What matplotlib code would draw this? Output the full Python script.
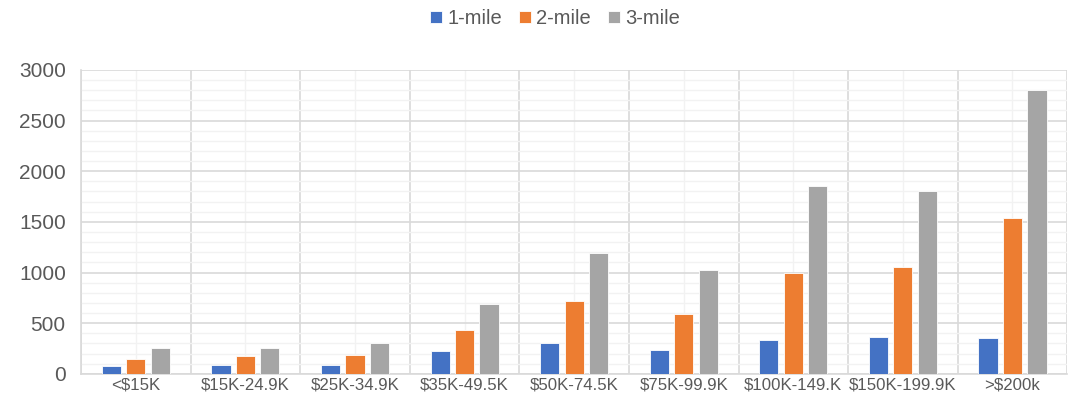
import matplotlib.pyplot as plt
import numpy as np
from matplotlib.ticker import MultipleLocator, FixedLocator

plt.rcParams['font.family'] = ['Liberation Sans', 'DejaVu Sans']

# Household income brackets and counts by radius
brackets = ['<$15K', '$15K-24.9K', '$25K-34.9K', '$35K-49.5K', '$50K-74.5K',
            '$75K-99.9K', '$100K-149.K', '$150K-199.9K', '>$200k']
one_mile = [78, 88, 92, 222, 302, 232, 335, 360, 355]
two_mile = [150, 173, 187, 432, 722, 587, 996, 1058, 1537]
three_mile = [252, 252, 302, 692, 1197, 1027, 1855, 1806, 2800]

series = [('1-mile', one_mile, '#4472C4'),
          ('2-mile', two_mile, '#ED7D31'),
          ('3-mile', three_mile, '#A5A5A5')]

fig = plt.figure(figsize=(10.72, 4.09), dpi=100)
ax = fig.add_axes([0.0756, 0.086, 0.92, 0.743])

x = np.arange(len(brackets))
step = 0.223
width = 0.175
for i, (name, vals, color) in enumerate(series):
    ax.bar(x + (i - 1) * step, vals, width, color=color, label=name,
           edgecolor='white', linewidth=0.6, zorder=3)

ax.set_xlim(-0.5, len(brackets) - 0.5)
ax.set_ylim(0, 3000)
ax.yaxis.set_major_locator(MultipleLocator(500))
ax.yaxis.set_minor_locator(MultipleLocator(100))
ax.xaxis.set_major_locator(FixedLocator(x))
ax.xaxis.set_minor_locator(FixedLocator(np.arange(-0.5, len(brackets), 1.0)))
ax.set_xticks(x)
ax.set_xticklabels(brackets)

# Light Excel-like grid: strong at 500s and bracket boundaries, faint elsewhere
ax.grid(which='major', axis='y', color='#D9D9D9', linewidth=1.2, zorder=0)
ax.grid(which='minor', axis='y', color='#F2F2F2', linewidth=1.0, zorder=0)
ax.grid(which='minor', axis='x', color='#D9D9D9', linewidth=1.2, zorder=0)
ax.grid(which='major', axis='x', color='#F2F2F2', linewidth=1.0, zorder=0)

for side in ['top', 'right']:
    ax.spines[side].set_visible(False)
for side in ['left', 'bottom']:
    ax.spines[side].set_color('#D9D9D9')
    ax.spines[side].set_linewidth(1.2)

ax.tick_params(which='both', length=0)
ax.tick_params(axis='y', labelsize=15, labelcolor='#595959', pad=11)
ax.tick_params(axis='x', labelsize=12.1, labelcolor='#595959', pad=3)

fig.legend(loc='upper center', bbox_to_anchor=(0.518, 1.022), ncol=3, frameon=False,
           fontsize=14.5, labelcolor='#595959', handlelength=0.6,
           handleheight=0.6, handletextpad=0.25, columnspacing=0.85)

fig.savefig('out.png', dpi=100, facecolor='white')
